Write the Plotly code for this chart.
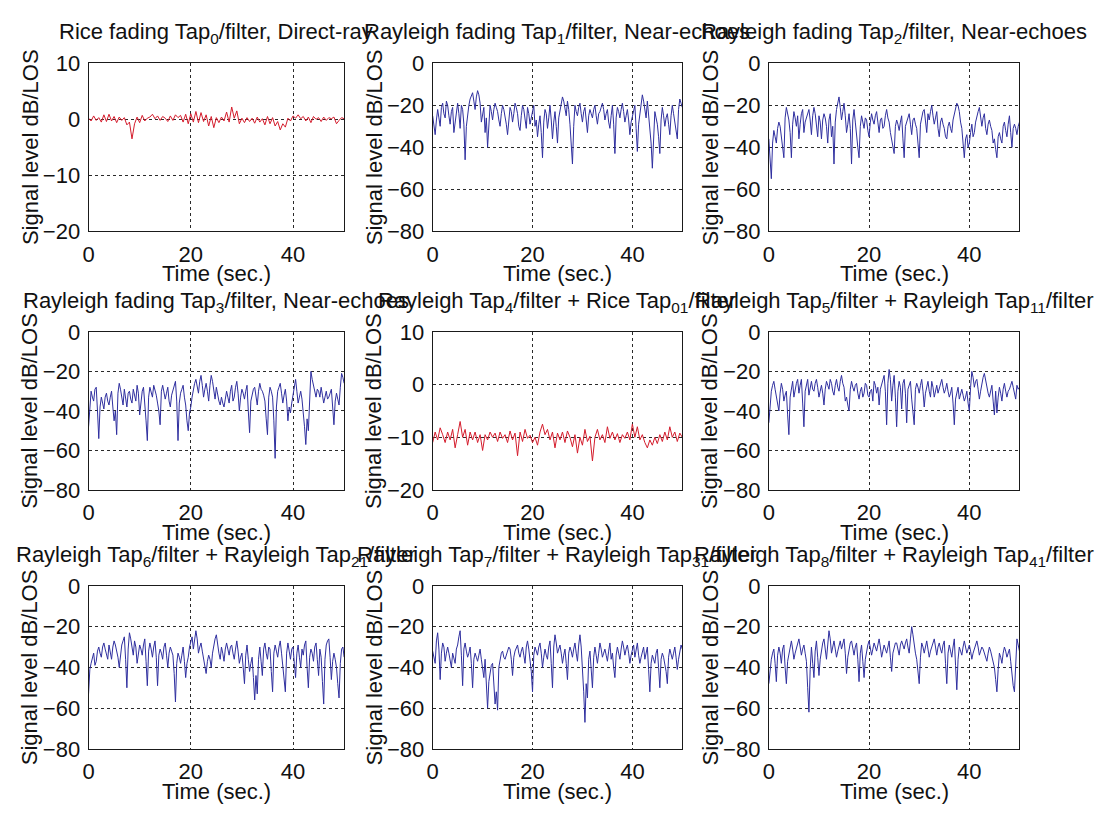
import numpy as np
import plotly.graph_objects as go
from plotly.subplots import make_subplots

# ---- signal levels (dB relative to LOS) over 0..50 s ----
# Rice-faded taps: 0.5 s spacing
rice_tap0 = [
    0.2, -0.3, 0.6, -0.2, 0.3, -0.5, 0.8, -0.4, 0.9, -0.3, 0.5, -0.6, 0.4, -0.2, 0.3, -1.0,
    -0.5, -3.5, -0.8, 0.4, -0.6, 0.7, -0.3, 0.2, 0.4, 0.9, 0.1, 0.6, -0.2, 0.5, 0.2, -0.4,
    0.6, -0.2, 0.8, 0.3, 0.7, -0.5, 0.9, -0.8, 1.0, -0.5, 1.4, -0.6, 1.2, -0.4, 0.8, -1.2,
    0.5, -1.5, 0.3, -0.6, 0.4, -0.3, 1.3, -0.5, 2.2, 0.2, 1.5, -0.8, 0.2, -0.6, 0.3, -0.4,
    0.2, -0.7, 0.4, -0.5, 0.1, -1.0, 0.5, -0.8, 0.3, -1.2, -0.4, -1.9, -0.8, -1.4, 0.2, -0.3,
    0.6, 0.2, 0.8, 0.1, 0.5, -0.3, 0.4, -0.6, 0.5, 0.0, 0.3, -0.4, 0.4, -0.2, 0.3, 0.1,
    0.4, -0.8, -0.2, 0.3, 0.1,
]
tap4_plus_rice = [
    -11, -9, -10.5, -8.2, -9.5, -11, -9, -10.5, -8.5, -12, -9.5, -7, -10, -8.5, -11.5, -9,
    -10.5, -9, -11, -9.5, -12.5, -9.5, -10.5, -9, -10, -9.2, -10.8, -9, -10.2, -9.5, -11, -8.8,
    -10.5, -9.2, -13.5, -9, -10.8, -8.5, -10.2, -9.6, -11, -10, -11.5, -9, -7.5, -9.5, -8.5, -10.5,
    -9, -12, -9.2, -10.5, -9, -11, -8.8, -10, -11.8, -9.5, -13, -10, -11.5, -8.5, -10.8, -9.8,
    -14.5, -10, -8.5, -10.5, -9.5, -11, -8, -10.2, -9, -10.5, -9.3, -11, -9.5, -10.2, -9, -10.5,
    -7.5, -10, -8, -10.5, -9.5, -11, -12, -10.5, -11.5, -10, -11.2, -9.5, -10.8, -9, -10.5, -8,
    -10, -9, -10.8, -9.2, -10,
]
# Rayleigh-faded taps: 0.25 s spacing
rayleigh_tap1 = [
    -25, -30, -34, -27, -22, -26, -30, -21, -19, -24, -26, -18, -20, -25, -29, -23,
    -21, -33, -28, -22, -19, -24, -31, -20, -22, -29, -46, -30, -24, -20, -17, -15,
    -14, -18, -22, -16, -13, -15, -19, -28, -24, -21, -33, -26, -40, -31, -20, -23,
    -27, -22, -19, -21, -23, -27, -30, -24, -20, -22, -25, -29, -34, -26, -21, -23,
    -28, -24, -19, -21, -24, -30, -32, -25, -20, -22, -26, -31, -21, -24, -29, -25,
    -23, -20, -30, -27, -35, -29, -25, -33, -45, -28, -22, -24, -31, -26, -20, -27,
    -36, -28, -23, -30, -38, -26, -22, -19, -16, -18, -21, -25, -18, -22, -29, -37,
    -48, -30, -20, -23, -25, -21, -19, -24, -28, -23, -21, -27, -33, -25, -22, -24,
    -26, -22, -20, -25, -29, -24, -23, -21, -19, -22, -27, -24, -22, -28, -31, -25,
    -20, -29, -43, -26, -21, -23, -26, -22, -19, -23, -28, -25, -22, -27, -34, -28,
    -25, -22, -20, -31, -42, -29, -24, -19, -15, -18, -22, -26, -18, -24, -30, -38,
    -50, -31, -23, -26, -29, -35, -43, -27, -21, -25, -30, -26, -24, -29, -34, -25,
    -20, -24, -28, -32, -36, -22, -17, -19, -21,
]
rayleigh_tap2 = [
    -36, -44, -55, -38, -32, -35, -38, -31, -28, -30, -34, -40, -45, -26, -21, -24,
    -27, -33, -45, -29, -23, -26, -30, -25, -36, -29, -24, -22, -33, -28, -26, -23,
    -22, -27, -34, -25, -21, -24, -29, -35, -25, -28, -36, -27, -24, -26, -30, -38,
    -27, -24, -35, -30, -48, -28, -22, -19, -16, -21, -27, -23, -19, -25, -33, -29,
    -24, -31, -48, -27, -22, -28, -36, -40, -45, -30, -25, -28, -31, -26, -27, -32,
    -35, -28, -24, -27, -29, -25, -23, -28, -33, -27, -26, -31, -30, -25, -22, -26,
    -28, -33, -36, -40, -43, -30, -27, -29, -32, -28, -25, -36, -45, -30, -28, -25,
    -24, -29, -34, -27, -26, -29, -31, -38, -45, -29, -25, -23, -22, -27, -33, -24,
    -27, -23, -20, -25, -29, -26, -23, -31, -35, -28, -26, -29, -31, -35, -36, -30,
    -28, -31, -33, -27, -24, -21, -19, -20, -23, -28, -31, -38, -45, -36, -34, -40,
    -38, -33, -29, -35, -33, -28, -25, -23, -21, -27, -30, -26, -24, -31, -34, -29,
    -27, -30, -32, -38, -36, -41, -45, -35, -33, -36, -38, -30, -28, -32, -35, -29,
    -25, -33, -40, -31, -29, -31, -34, -30, -28,
]
rayleigh_tap3 = [
    -48, -36, -30, -33, -35, -29, -28, -40, -54, -38, -33, -36, -39, -33, -31, -35,
    -37, -33, -30, -38, -45, -40, -52, -31, -26, -29, -34, -37, -29, -33, -38, -31,
    -30, -34, -36, -29, -32, -35, -27, -31, -42, -34, -30, -28, -35, -45, -55, -33,
    -28, -31, -33, -27, -29, -32, -36, -40, -47, -30, -27, -30, -34, -31, -28, -35,
    -38, -32, -30, -27, -25, -35, -55, -36, -31, -29, -27, -33, -37, -45, -50, -41,
    -38, -33, -29, -26, -24, -28, -31, -25, -22, -27, -33, -29, -26, -30, -35, -27,
    -22, -25, -30, -34, -28, -32, -35, -37, -33, -36, -38, -34, -30, -33, -36, -30,
    -27, -35, -33, -28, -25, -31, -40, -33, -29, -31, -34, -30, -27, -40, -51, -35,
    -32, -29, -28, -33, -37, -30, -26, -29, -30, -32, -35, -44, -52, -33, -28, -30,
    -33, -45, -64, -38, -30, -28, -26, -31, -36, -32, -29, -35, -45, -38, -41, -36,
    -32, -28, -24, -30, -36, -33, -30, -34, -40, -48, -57, -44, -50, -30, -20, -24,
    -27, -31, -33, -29, -30, -33, -28, -32, -36, -33, -30, -34, -33, -31, -29, -38,
    -47, -35, -31, -34, -37, -28, -21, -23, -26,
]
tap5_plus_tap11 = [
    -46, -36, -30, -27, -25, -29, -33, -37, -40, -31, -26, -29, -35, -32, -30, -42,
    -52, -33, -28, -25, -33, -29, -26, -24, -31, -27, -24, -36, -48, -30, -27, -24,
    -32, -28, -25, -29, -30, -26, -24, -28, -33, -30, -27, -31, -37, -29, -25, -27,
    -29, -24, -26, -30, -32, -27, -24, -28, -30, -25, -22, -26, -28, -35, -33, -37,
    -40, -29, -25, -28, -30, -27, -26, -31, -34, -30, -28, -33, -31, -26, -27, -32,
    -33, -30, -29, -35, -25, -27, -31, -28, -37, -29, -27, -24, -22, -30, -47, -26,
    -19, -24, -35, -27, -22, -33, -48, -30, -25, -28, -39, -26, -24, -31, -46, -29,
    -27, -25, -34, -40, -47, -29, -26, -28, -31, -27, -24, -30, -38, -31, -27, -25,
    -30, -33, -25, -28, -33, -29, -27, -31, -29, -26, -24, -28, -31, -29, -26, -30,
    -33, -31, -28, -36, -47, -34, -31, -28, -34, -31, -29, -32, -35, -33, -30, -36,
    -40, -28, -20, -23, -28, -25, -24, -29, -34, -30, -26, -23, -21, -25, -29, -31,
    -33, -30, -27, -35, -42, -30, -41, -33, -28, -31, -35, -29, -26, -30, -33, -30,
    -29, -27, -25, -28, -31, -34, -27, -29, -28,
]
tap6_plus_tap21 = [
    -53, -41, -38, -35, -33, -39, -37, -32, -30, -33, -35, -30, -28, -31, -33, -36,
    -29, -32, -36, -30, -27, -29, -32, -35, -40, -33, -29, -27, -25, -36, -50, -31,
    -23, -26, -31, -34, -27, -30, -38, -33, -29, -31, -34, -29, -26, -37, -49, -32,
    -28, -31, -35, -30, -27, -35, -49, -34, -31, -33, -36, -30, -28, -34, -40, -33,
    -30, -32, -34, -43, -57, -38, -33, -35, -38, -34, -30, -37, -45, -38, -35, -30,
    -27, -25, -31, -27, -22, -26, -33, -30, -28, -32, -36, -39, -43, -37, -34, -36,
    -40, -33, -29, -26, -24, -30, -33, -36, -30, -33, -37, -31, -28, -31, -34, -30,
    -29, -33, -36, -31, -27, -32, -38, -35, -33, -40, -48, -34, -29, -36, -42, -38,
    -35, -45, -56, -44, -53, -36, -30, -37, -44, -31, -28, -33, -36, -30, -31, -42,
    -52, -33, -29, -32, -35, -30, -27, -33, -40, -46, -52, -33, -28, -32, -36, -31,
    -30, -38, -45, -33, -29, -35, -40, -31, -34, -29, -27, -40, -50, -35, -31, -33,
    -37, -30, -28, -36, -44, -31, -35, -47, -58, -36, -29, -27, -26, -35, -46, -37,
    -33, -36, -40, -48, -55, -38, -31, -30, -35,
]
tap7_plus_tap31 = [
    -32, -35, -38, -27, -23, -31, -46, -33, -28, -30, -37, -33, -30, -33, -36, -40,
    -33, -35, -38, -31, -29, -25, -22, -34, -49, -31, -28, -32, -35, -33, -30, -38,
    -50, -36, -33, -35, -37, -34, -31, -36, -40, -45, -36, -48, -60, -47, -42, -39,
    -38, -46, -58, -52, -61, -40, -35, -33, -32, -35, -36, -34, -33, -30, -31, -36,
    -44, -35, -32, -30, -29, -33, -35, -32, -30, -34, -38, -30, -27, -31, -36, -42,
    -52, -34, -30, -32, -34, -30, -28, -33, -40, -35, -31, -34, -36, -30, -27, -38,
    -50, -30, -24, -28, -33, -31, -29, -33, -38, -34, -31, -38, -46, -33, -30, -32,
    -35, -31, -28, -33, -37, -29, -24, -30, -40, -52, -67, -48, -55, -36, -32, -41,
    -50, -35, -30, -34, -38, -33, -28, -31, -35, -33, -31, -34, -37, -32, -28, -36,
    -33, -40, -45, -34, -30, -33, -36, -31, -27, -30, -34, -31, -29, -33, -38, -34,
    -31, -29, -35, -32, -28, -34, -38, -35, -33, -30, -36, -33, -30, -41, -52, -38,
    -34, -36, -38, -33, -31, -40, -50, -36, -33, -35, -38, -42, -48, -35, -31, -33,
    -36, -33, -30, -35, -41, -36, -32, -29, -31,
]
tap8_plus_tap41 = [
    -48, -41, -36, -33, -31, -38, -47, -34, -30, -33, -38, -31, -29, -40, -48, -37,
    -33, -29, -27, -31, -36, -33, -31, -28, -26, -30, -34, -31, -29, -33, -37, -50,
    -62, -41, -30, -38, -45, -32, -27, -35, -44, -36, -31, -28, -26, -30, -36, -29,
    -22, -26, -33, -30, -27, -31, -35, -32, -29, -27, -31, -28, -26, -33, -43, -35,
    -30, -28, -27, -31, -34, -30, -28, -36, -47, -33, -29, -37, -45, -36, -31, -29,
    -27, -30, -34, -31, -28, -30, -32, -29, -26, -30, -35, -32, -29, -31, -33, -30,
    -27, -35, -42, -33, -30, -28, -28, -31, -34, -29, -27, -29, -31, -28, -26, -30,
    -33, -26, -20, -24, -30, -33, -36, -41, -48, -35, -28, -30, -33, -30, -27, -31,
    -35, -32, -30, -28, -26, -30, -34, -30, -28, -31, -33, -29, -27, -38, -48, -33,
    -29, -32, -35, -30, -26, -39, -51, -36, -30, -32, -34, -30, -27, -30, -33, -31,
    -29, -32, -36, -33, -31, -29, -27, -30, -34, -32, -30, -31, -33, -35, -37, -33,
    -30, -32, -35, -37, -40, -46, -52, -41, -33, -35, -38, -33, -30, -32, -35, -33,
    -31, -37, -44, -49, -52, -35, -26, -29, -32,
]

titles = [
    "Rice fading Tap<sub>0</sub>/filter, Direct-ray",
    "Rayleigh fading Tap<sub>1</sub>/filter, Near-echoes",
    "Rayleigh fading Tap<sub>2</sub>/filter, Near-echoes",
    "Rayleigh fading Tap<sub>3</sub>/filter, Near-echoes",
    "Rayleigh Tap<sub>4</sub>/filter + Rice Tap<sub>01</sub>/filter",
    "Rayleigh Tap<sub>5</sub>/filter + Rayleigh Tap<sub>11</sub>/filter",
    "Rayleigh Tap<sub>6</sub>/filter + Rayleigh Tap<sub>21</sub>/filter",
    "Rayleigh Tap<sub>7</sub>/filter + Rayleigh Tap<sub>31</sub>/filter",
    "Rayleigh Tap<sub>8</sub>/filter + Rayleigh Tap<sub>41</sub>/filter",
]
series = [rice_tap0, rayleigh_tap1, rayleigh_tap2, rayleigh_tap3, tap4_plus_rice,
          tap5_plus_tap11, tap6_plus_tap21, tap7_plus_tap31, tap8_plus_tap41]
rice_panels = {0, 4}
x_ticks = [0, 20, 40]
y_ticks_rice = [-20, -10, 0, 10]
y_ticks_rayleigh = [-80, -60, -40, -20, 0]

RED = "#d41c2c"
BLUE = "#2f2f9f"
FONT = "Liberation Sans, Arial, Helvetica, sans-serif"
FS = 22

W, H = 1104, 820
col_px = [(83, 340), (429, 680), (767, 1019)]
row_px = [(53, 226), (330, 493), (592, 760)]

fig = make_subplots(rows=3, cols=3)

for i, ys in enumerate(series):
    r, c = divmod(i, 3)
    t = np.linspace(0, 50, len(ys))
    fig.add_trace(
        go.Scatter(x=t, y=ys, mode="lines",
                   line=dict(color=RED if i in rice_panels else BLUE, width=1),
                   showlegend=False, hoverinfo="skip"),
        row=r + 1, col=c + 1,
    )
    x0, x1 = col_px[c]
    y0, y1 = row_px[r]
    common = dict(showline=True, linecolor="#1a1a1a", linewidth=1, mirror=True,
                  showgrid=True, gridcolor="#2a2a2a", griddash="dot", gridwidth=1,
                  zeroline=False, ticks="", tickfont=dict(family=FONT, size=FS, color="#111"))
    fig.update_xaxes(domain=[x0 / W, x1 / W], range=[0, 50], tickvals=x_ticks,
                     ticklabelstandoff=3, row=r + 1, col=c + 1, **common)
    if i in rice_panels:
        yr, yt = [-20, 10], y_ticks_rice
    else:
        yr, yt = [-80, 0], y_ticks_rayleigh
    fig.update_yaxes(domain=[1 - y1 / H, 1 - y0 / H], range=yr, tickvals=yt,
                     ticklabelstandoff=3, row=r + 1, col=c + 1, **common)

    # panel title
    fig.add_annotation(text=titles[i], xref="paper", yref="paper",
                       x=(x0 + x1) / 2 / W, y=1 - (y0 - 31) / H,
                       xanchor="center", yanchor="middle", showarrow=False,
                       font=dict(family=FONT, size=FS, color="#111"))
    # x-axis label
    fig.add_annotation(text="Time (sec.)", xref="paper", yref="paper",
                       x=(x0 + x1) / 2 / W, y=1 - (y1 + 44) / H,
                       xanchor="center", yanchor="middle", showarrow=False,
                       font=dict(family=FONT, size=FS, color="#111"))
    # y-axis label
    fig.add_annotation(text="Signal level dB/LOS", xref="paper", yref="paper",
                       x=(x0 - 59) / W, y=1 - (y0 + y1) / 2 / H, textangle=-90,
                       xanchor="center", yanchor="middle", showarrow=False,
                       font=dict(family=FONT, size=FS, color="#111"))

fig.update_layout(width=W, height=H, margin=dict(l=0, r=0, t=0, b=0),
                  paper_bgcolor="white", plot_bgcolor="white",
                  font=dict(family=FONT, size=FS, color="#111"))

fig.write_html("out.html")
